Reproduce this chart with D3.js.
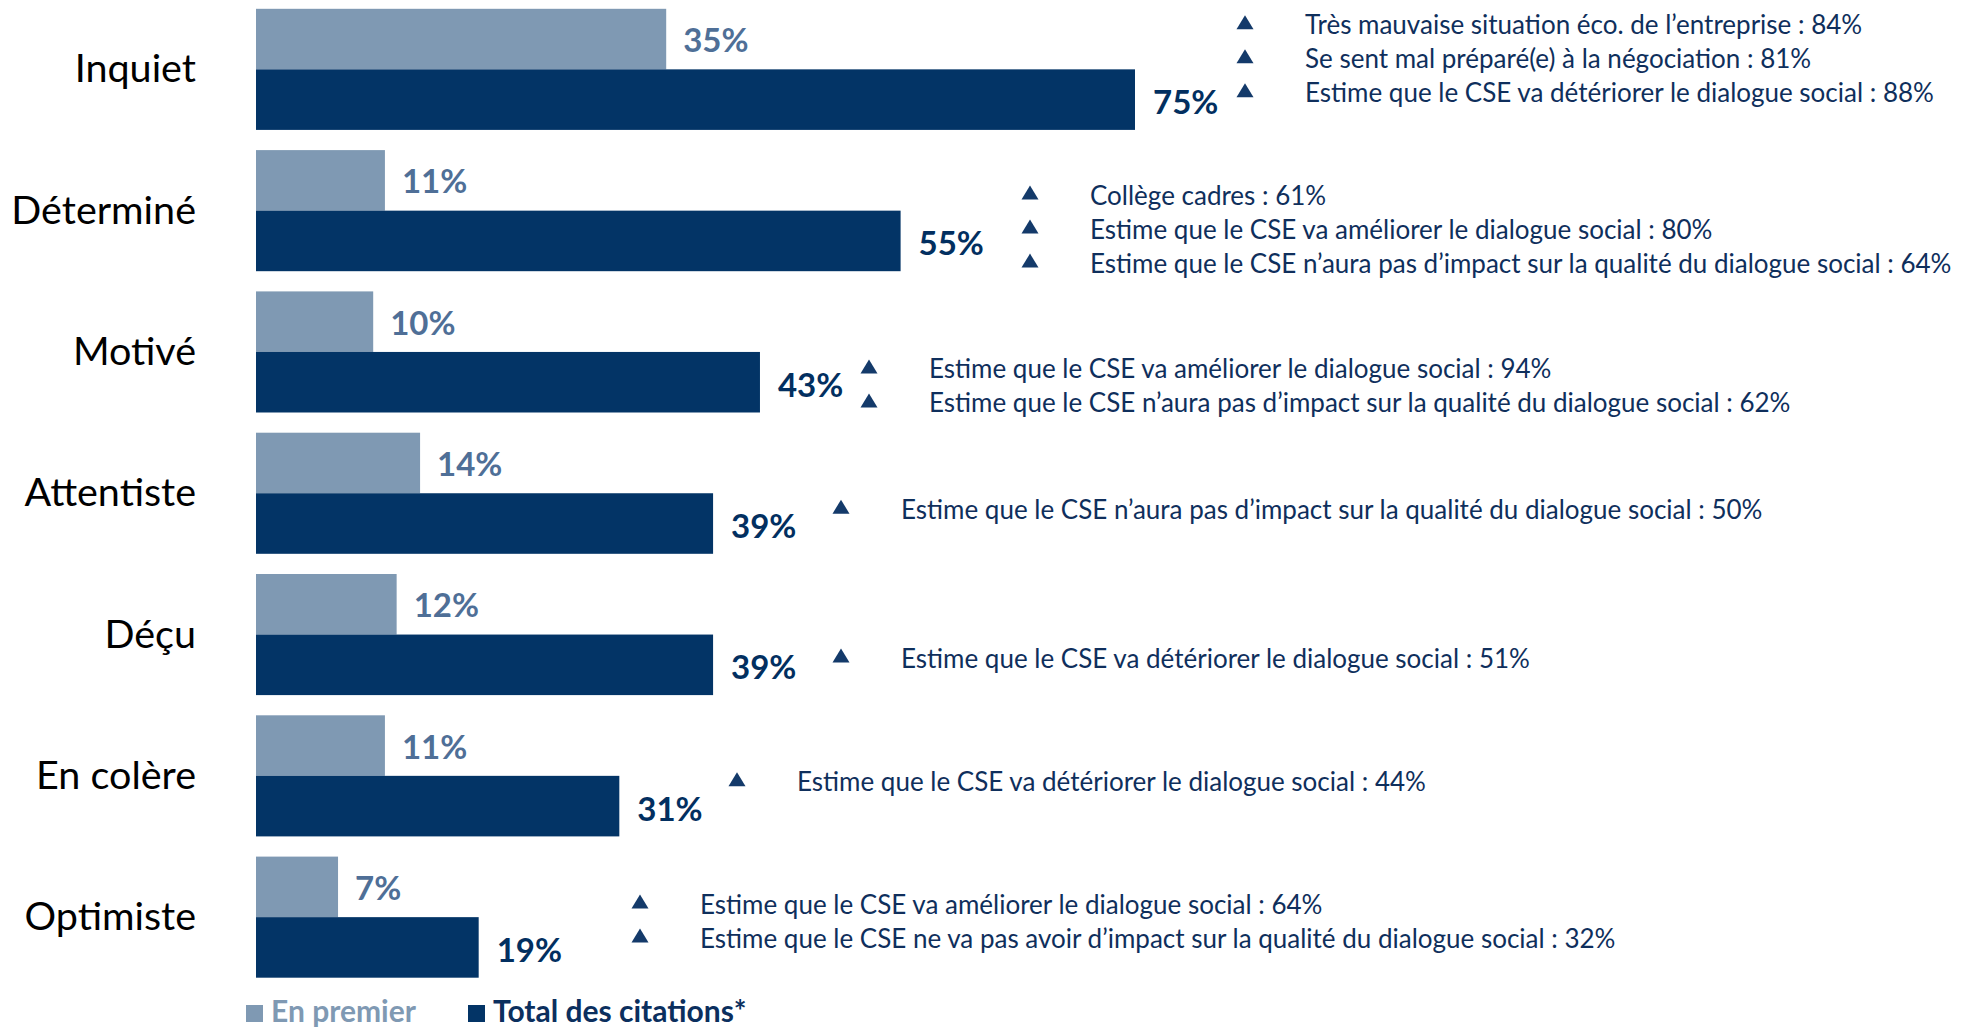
<!DOCTYPE html>
<html>
<head>
<meta charset="utf-8">
<script src="https://cdn.jsdelivr.net/npm/d3@7"></script>
<style>
  body { margin: 0; background: #fff; }
  text { font-family: Lato, "Noto Sans", sans-serif; }
</style>
</head>
<body>
<div id="chart"></div>
<script>
const width = 1978;
const height = 1027;

// data
const categories = ["Inquiet", "Déterminé", "Motivé", "Attentiste", "Déçu", "En colère", "Optimiste"];
const enPremier = [35, 11, 10, 14, 12, 11, 7];
const totalCitations = [75, 55, 43, 39, 39, 31, 19];
const notes = [
    ["Très mauvaise situation éco. de l’entreprise : 84%",
     "Se sent mal préparé(e) à la négociation : 81%",
     "Estime que le CSE va détériorer le dialogue social : 88%"],
    ["Collège cadres : 61%",
     "Estime que le CSE va améliorer le dialogue social : 80%",
     "Estime que le CSE n’aura pas d’impact sur la qualité du dialogue social : 64%"],
    ["Estime que le CSE va améliorer le dialogue social : 94%",
     "Estime que le CSE n’aura pas d’impact sur la qualité du dialogue social : 62%"],
    ["Estime que le CSE n’aura pas d’impact sur la qualité du dialogue social : 50%"],
    ["Estime que le CSE va détériorer le dialogue social : 51%"],
    ["Estime que le CSE va détériorer le dialogue social : 44%"],
    ["Estime que le CSE va améliorer le dialogue social : 64%",
     "Estime que le CSE ne va pas avoir d’impact sur la qualité du dialogue social : 32%"]
];
const legendLabels = ["En premier", "Total des citations*"];

// layout of the annotations (triangle x, first baseline below group top)
const noteX = [1245, 1030, 869, 841, 841, 737, 640];
const noteDy = [25.5, 54.5, 87, 86, 93.5, 76, 57];

const lightColor = "#7f99b3";
const darkColor = "#033466";

const svg = d3.select("#chart")
    .append("svg")
    .attr("width", width)
    .attr("height", height);

const x = d3.scaleLinear().domain([0, 100]).range([256, 256 + 1172]);

const y = d3.scaleBand()
    .domain(categories)
    .range([-1.3, 987.8])
    .paddingInner(0.143)
    .paddingOuter(0.0715);

const sub = d3.scaleBand()
    .domain(["premier", "total"])
    .range([0, y.bandwidth()]);

const rows = categories.map((c, i) => ({
    cat: c, premier: enPremier[i], total: totalCitations[i], notes: notes[i], i
}));

const g = svg.selectAll("g.row")
    .data(rows)
    .enter()
    .append("g")
    .attr("class", "row")
    .attr("transform", d => `translate(0, ${y(d.cat)})`);

// category labels
g.append("text")
    .attr("x", 196)
    .attr("y", y.bandwidth() / 2 + 13)
    .attr("text-anchor", "end")
    .attr("font-size", 39.5)
    .attr("fill", "#000")
    .text(d => d.cat);

// bars
g.append("rect")
    .attr("x", x(0))
    .attr("y", sub("premier"))
    .attr("width", d => x(d.premier) - x(0))
    .attr("height", sub.bandwidth())
    .attr("fill", lightColor);

g.append("rect")
    .attr("x", x(0))
    .attr("y", sub("total"))
    .attr("width", d => x(d.total) - x(0))
    .attr("height", sub.bandwidth())
    .attr("fill", darkColor);

// value labels
g.append("text")
    .attr("x", d => x(d.premier) + 17)
    .attr("y", sub("premier") + sub.bandwidth() / 2 + 13)
    .attr("font-size", 33)
    .attr("font-weight", "bold")
    .attr("fill", "#4f6f97")
    .text(d => d.premier + "%");

g.append("text")
    .attr("x", d => x(d.total) + 18)
    .attr("y", sub("total") + sub.bandwidth() / 2 + 14.5)
    .attr("font-size", 33)
    .attr("font-weight", "bold")
    .attr("fill", "#022f60")
    .text(d => d.total + "%");

// annotations
const lineGap = 34;
g.each(function(d) {
    const row = d3.select(this);
    d.notes.forEach((t, k) => {
        const base = noteDy[d.i] + k * lineGap;
        const cx = noteX[d.i];
        row.append("path")
            .attr("d", `M${cx - 8.5},${base - 5} L${cx + 8.5},${base - 5} L${cx},${base - 19} Z`)
            .attr("fill", "#143a6a");
        row.append("text")
            .attr("x", cx + 60)
            .attr("y", base)
            .attr("font-size", 26)
            .attr("fill", "#0f2f5c")
            .text(t);
    });
});

// legend
const legend = svg.append("g");
const legendX = [246, 468];
const legendColors = [lightColor, darkColor];
const legendText = ["#7f99b3", "#0b2f5e"];
legendLabels.forEach((l, i) => {
    legend.append("rect")
        .attr("x", legendX[i])
        .attr("y", 1005)
        .attr("width", 17)
        .attr("height", 17)
        .attr("fill", legendColors[i]);
    legend.append("text")
        .attr("x", legendX[i] + 25)
        .attr("y", 1022)
        .attr("font-size", 30)
        .attr("font-weight", "bold")
        .attr("fill", legendText[i])
        .text(l);
});
</script>
</body>
</html>
